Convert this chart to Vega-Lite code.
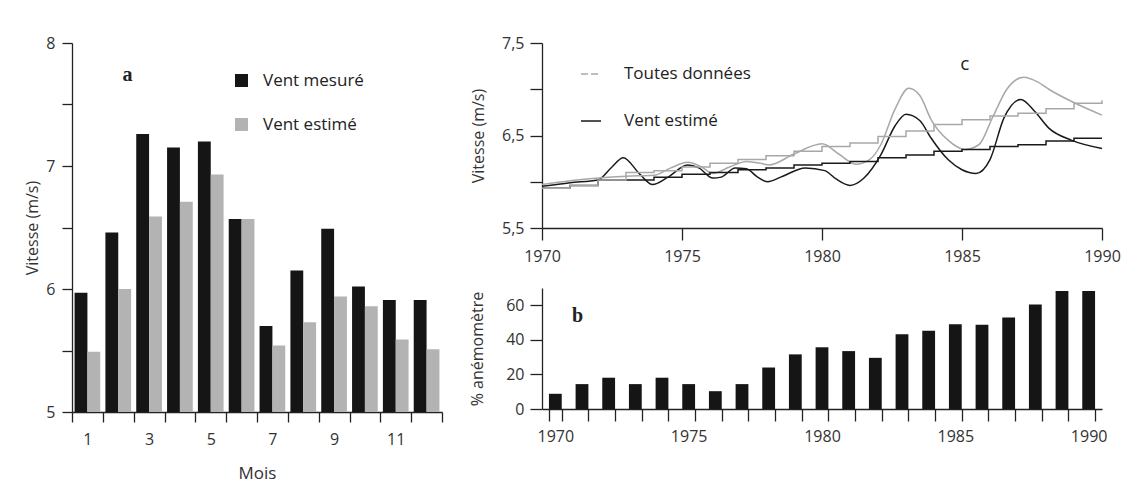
{
  "$schema": "https://vega.github.io/schema/vega-lite/v6.json",
  "background": "white",
  "padding": {"left": 24, "top": 35, "right": 5, "bottom": 5},
  "bounds": "flush",
  "spacing": 100,
  "resolve": {"scale": {"color": "independent"}, "legend": {"color": "independent"}},
  "config": {
    "view": {"stroke": null},
    "font": "Open Sans",
    "axis": {"domainColor": "#222", "tickColor": "#222", "labelColor": "#333", "titleColor": "#333", "labelFont": "Open Sans", "titleFont": "Open Sans", "labelFontSize": 16, "titleFontSize": 16, "titleFontWeight": "normal", "grid": false, "domainWidth": 1.3, "tickWidth": 1.3},
    "legend": {"labelFont": "Open Sans", "labelColor": "#222", "labelFontSize": 17}
  },
  "datasets": {
    "mensuel": [
      {"mois": 1, "serie": "Vent mesuré", "vitesse": 5.97}, {"mois": 1, "serie": "Vent estimé", "vitesse": 5.49},
      {"mois": 2, "serie": "Vent mesuré", "vitesse": 6.46}, {"mois": 2, "serie": "Vent estimé", "vitesse": 6.00},
      {"mois": 3, "serie": "Vent mesuré", "vitesse": 7.26}, {"mois": 3, "serie": "Vent estimé", "vitesse": 6.59},
      {"mois": 4, "serie": "Vent mesuré", "vitesse": 7.15}, {"mois": 4, "serie": "Vent estimé", "vitesse": 6.71},
      {"mois": 5, "serie": "Vent mesuré", "vitesse": 7.20}, {"mois": 5, "serie": "Vent estimé", "vitesse": 6.93},
      {"mois": 6, "serie": "Vent mesuré", "vitesse": 6.57}, {"mois": 6, "serie": "Vent estimé", "vitesse": 6.57},
      {"mois": 7, "serie": "Vent mesuré", "vitesse": 5.70}, {"mois": 7, "serie": "Vent estimé", "vitesse": 5.54},
      {"mois": 8, "serie": "Vent mesuré", "vitesse": 6.15}, {"mois": 8, "serie": "Vent estimé", "vitesse": 5.73},
      {"mois": 9, "serie": "Vent mesuré", "vitesse": 6.49}, {"mois": 9, "serie": "Vent estimé", "vitesse": 5.94},
      {"mois": 10, "serie": "Vent mesuré", "vitesse": 6.02}, {"mois": 10, "serie": "Vent estimé", "vitesse": 5.86},
      {"mois": 11, "serie": "Vent mesuré", "vitesse": 5.91}, {"mois": 11, "serie": "Vent estimé", "vitesse": 5.59},
      {"mois": 12, "serie": "Vent mesuré", "vitesse": 5.91}, {"mois": 12, "serie": "Vent estimé", "vitesse": 5.51}
    ],
    "lisse": [
      {"annee": 1970, "serie": "Vent estimé", "vitesse": 5.95},
      {"annee": 1971, "serie": "Vent estimé", "vitesse": 5.99},
      {"annee": 1972, "serie": "Vent estimé", "vitesse": 6.02},
      {"annee": 1972.5, "serie": "Vent estimé", "vitesse": 6.16},
      {"annee": 1972.9, "serie": "Vent estimé", "vitesse": 6.26},
      {"annee": 1973.5, "serie": "Vent estimé", "vitesse": 6.08},
      {"annee": 1973.95, "serie": "Vent estimé", "vitesse": 5.97},
      {"annee": 1974.5, "serie": "Vent estimé", "vitesse": 6.05},
      {"annee": 1975.2, "serie": "Vent estimé", "vitesse": 6.18},
      {"annee": 1975.6, "serie": "Vent estimé", "vitesse": 6.15},
      {"annee": 1976.1, "serie": "Vent estimé", "vitesse": 6.04},
      {"annee": 1976.4, "serie": "Vent estimé", "vitesse": 6.05},
      {"annee": 1976.9, "serie": "Vent estimé", "vitesse": 6.15},
      {"annee": 1977.3, "serie": "Vent estimé", "vitesse": 6.14},
      {"annee": 1977.7, "serie": "Vent estimé", "vitesse": 6.05},
      {"annee": 1978.05, "serie": "Vent estimé", "vitesse": 6.0},
      {"annee": 1978.6, "serie": "Vent estimé", "vitesse": 6.06},
      {"annee": 1979.4, "serie": "Vent estimé", "vitesse": 6.15},
      {"annee": 1980.1, "serie": "Vent estimé", "vitesse": 6.12},
      {"annee": 1980.5, "serie": "Vent estimé", "vitesse": 6.03},
      {"annee": 1981.0, "serie": "Vent estimé", "vitesse": 5.96},
      {"annee": 1981.5, "serie": "Vent estimé", "vitesse": 6.04},
      {"annee": 1982.1, "serie": "Vent estimé", "vitesse": 6.29},
      {"annee": 1982.6, "serie": "Vent estimé", "vitesse": 6.6},
      {"annee": 1983.0, "serie": "Vent estimé", "vitesse": 6.73},
      {"annee": 1983.5, "serie": "Vent estimé", "vitesse": 6.66},
      {"annee": 1983.9, "serie": "Vent estimé", "vitesse": 6.47},
      {"annee": 1984.5, "serie": "Vent estimé", "vitesse": 6.24},
      {"annee": 1985.0, "serie": "Vent estimé", "vitesse": 6.13},
      {"annee": 1985.5, "serie": "Vent estimé", "vitesse": 6.09},
      {"annee": 1986.0, "serie": "Vent estimé", "vitesse": 6.24},
      {"annee": 1986.5, "serie": "Vent estimé", "vitesse": 6.69},
      {"annee": 1987.1, "serie": "Vent estimé", "vitesse": 6.89},
      {"annee": 1987.6, "serie": "Vent estimé", "vitesse": 6.76},
      {"annee": 1988.1, "serie": "Vent estimé", "vitesse": 6.58},
      {"annee": 1988.9, "serie": "Vent estimé", "vitesse": 6.45},
      {"annee": 1990, "serie": "Vent estimé", "vitesse": 6.36},
      {"annee": 1970, "serie": "Toutes données", "vitesse": 5.97},
      {"annee": 1971, "serie": "Toutes données", "vitesse": 6.01},
      {"annee": 1972, "serie": "Toutes données", "vitesse": 6.04},
      {"annee": 1973, "serie": "Toutes données", "vitesse": 6.06},
      {"annee": 1974, "serie": "Toutes données", "vitesse": 6.07},
      {"annee": 1974.6, "serie": "Toutes données", "vitesse": 6.15},
      {"annee": 1975.2, "serie": "Toutes données", "vitesse": 6.21},
      {"annee": 1975.7, "serie": "Toutes données", "vitesse": 6.16},
      {"annee": 1976.1, "serie": "Toutes données", "vitesse": 6.09},
      {"annee": 1976.7, "serie": "Toutes données", "vitesse": 6.16},
      {"annee": 1977.3, "serie": "Toutes données", "vitesse": 6.22},
      {"annee": 1977.8, "serie": "Toutes données", "vitesse": 6.2},
      {"annee": 1978.1, "serie": "Toutes données", "vitesse": 6.18},
      {"annee": 1979.0, "serie": "Toutes données", "vitesse": 6.3},
      {"annee": 1980.0, "serie": "Toutes données", "vitesse": 6.41},
      {"annee": 1980.6, "serie": "Toutes données", "vitesse": 6.3},
      {"annee": 1981.2, "serie": "Toutes données", "vitesse": 6.19},
      {"annee": 1981.7, "serie": "Toutes données", "vitesse": 6.24},
      {"annee": 1982.1, "serie": "Toutes données", "vitesse": 6.4},
      {"annee": 1982.6, "serie": "Toutes données", "vitesse": 6.78},
      {"annee": 1983.1, "serie": "Toutes données", "vitesse": 7.01},
      {"annee": 1983.5, "serie": "Toutes données", "vitesse": 6.93},
      {"annee": 1983.9, "serie": "Toutes données", "vitesse": 6.67},
      {"annee": 1984.5, "serie": "Toutes données", "vitesse": 6.45},
      {"annee": 1985.1, "serie": "Toutes données", "vitesse": 6.35},
      {"annee": 1985.6, "serie": "Toutes données", "vitesse": 6.4},
      {"annee": 1986.1, "serie": "Toutes données", "vitesse": 6.7},
      {"annee": 1986.6, "serie": "Toutes données", "vitesse": 7.0},
      {"annee": 1987.2, "serie": "Toutes données", "vitesse": 7.13},
      {"annee": 1987.7, "serie": "Toutes données", "vitesse": 7.08},
      {"annee": 1988.1, "serie": "Toutes données", "vitesse": 7.0},
      {"annee": 1988.9, "serie": "Toutes données", "vitesse": 6.87},
      {"annee": 1990, "serie": "Toutes données", "vitesse": 6.72}
    ],
    "cumul": [
      {"annee": 1970, "serie": "Vent estimé", "vitesse": 5.93}, {"annee": 1971, "serie": "Vent estimé", "vitesse": 5.96},
      {"annee": 1972, "serie": "Vent estimé", "vitesse": 6.02}, {"annee": 1973, "serie": "Vent estimé", "vitesse": 6.02},
      {"annee": 1974, "serie": "Vent estimé", "vitesse": 6.05}, {"annee": 1975, "serie": "Vent estimé", "vitesse": 6.08},
      {"annee": 1976, "serie": "Vent estimé", "vitesse": 6.10}, {"annee": 1977, "serie": "Vent estimé", "vitesse": 6.13},
      {"annee": 1978, "serie": "Vent estimé", "vitesse": 6.15}, {"annee": 1979, "serie": "Vent estimé", "vitesse": 6.18},
      {"annee": 1980, "serie": "Vent estimé", "vitesse": 6.20}, {"annee": 1981, "serie": "Vent estimé", "vitesse": 6.22},
      {"annee": 1982, "serie": "Vent estimé", "vitesse": 6.26}, {"annee": 1983, "serie": "Vent estimé", "vitesse": 6.29},
      {"annee": 1984, "serie": "Vent estimé", "vitesse": 6.33}, {"annee": 1985, "serie": "Vent estimé", "vitesse": 6.35},
      {"annee": 1986, "serie": "Vent estimé", "vitesse": 6.38}, {"annee": 1987, "serie": "Vent estimé", "vitesse": 6.40},
      {"annee": 1988, "serie": "Vent estimé", "vitesse": 6.44}, {"annee": 1989, "serie": "Vent estimé", "vitesse": 6.47},
      {"annee": 1990, "serie": "Vent estimé", "vitesse": 6.47},
      {"annee": 1970, "serie": "Toutes données", "vitesse": 5.93}, {"annee": 1971, "serie": "Toutes données", "vitesse": 5.96},
      {"annee": 1972, "serie": "Toutes données", "vitesse": 6.02}, {"annee": 1973, "serie": "Toutes données", "vitesse": 6.10},
      {"annee": 1974, "serie": "Toutes données", "vitesse": 6.12}, {"annee": 1975, "serie": "Toutes données", "vitesse": 6.16},
      {"annee": 1976, "serie": "Toutes données", "vitesse": 6.20}, {"annee": 1977, "serie": "Toutes données", "vitesse": 6.24},
      {"annee": 1978, "serie": "Toutes données", "vitesse": 6.28}, {"annee": 1979, "serie": "Toutes données", "vitesse": 6.33},
      {"annee": 1980, "serie": "Toutes données", "vitesse": 6.38}, {"annee": 1981, "serie": "Toutes données", "vitesse": 6.42},
      {"annee": 1982, "serie": "Toutes données", "vitesse": 6.49}, {"annee": 1983, "serie": "Toutes données", "vitesse": 6.55},
      {"annee": 1984, "serie": "Toutes données", "vitesse": 6.62}, {"annee": 1985, "serie": "Toutes données", "vitesse": 6.67},
      {"annee": 1986, "serie": "Toutes données", "vitesse": 6.71}, {"annee": 1987, "serie": "Toutes données", "vitesse": 6.74},
      {"annee": 1988, "serie": "Toutes données", "vitesse": 6.79}, {"annee": 1989, "serie": "Toutes données", "vitesse": 6.85},
      {"annee": 1990, "serie": "Toutes données", "vitesse": 6.88}
    ],
    "anemo": [
      {"annee": 1970, "pct": 8.8}, {"annee": 1971, "pct": 14.4}, {"annee": 1972, "pct": 18.1}, {"annee": 1973, "pct": 14.4},
      {"annee": 1974, "pct": 18.1}, {"annee": 1975, "pct": 14.4}, {"annee": 1976, "pct": 10.3}, {"annee": 1977, "pct": 14.4},
      {"annee": 1978, "pct": 24.0}, {"annee": 1979, "pct": 31.6}, {"annee": 1980, "pct": 35.7}, {"annee": 1981, "pct": 33.5},
      {"annee": 1982, "pct": 29.6}, {"annee": 1983, "pct": 43.2}, {"annee": 1984, "pct": 45.2}, {"annee": 1985, "pct": 49.1},
      {"annee": 1986, "pct": 48.7}, {"annee": 1987, "pct": 53.0}, {"annee": 1988, "pct": 60.4}, {"annee": 1989, "pct": 68.2},
      {"annee": 1990, "pct": 68.2}
    ]
  },
  "hconcat": [
    {
      "width": 370,
      "height": 369,
      "layer": [
        {
          "data": {"name": "mensuel"},
          "mark": {"type": "bar"},
          "encoding": {
            "x": {"field": "mois", "type": "ordinal", "scale": {"paddingInner": 0, "paddingOuter": 0},
                  "axis": {"title": "Mois", "labelExpr": "datum.value % 2 == 1 ? datum.label : ''", "tickBand": "extent", "labelAngle": 0, "tickSize": 10, "labelPadding": 9, "titlePadding": 18, "titleFontSize": 17}},
            "xOffset": {"field": "serie", "type": "nominal", "sort": ["Vent mesuré", "Vent estimé"], "scale": {"paddingInner": 0, "paddingOuter": 0.2}},
            "y": {"field": "vitesse", "type": "quantitative", "scale": {"domain": [5, 8], "zero": false, "nice": false},
                  "axis": {"title": "Vitesse (m/s)", "values": [5, 5.5, 6, 6.5, 7, 7.5, 8], "labelExpr": "datum.value % 1 == 0 ? format(datum.value, 'd') : ''", "tickSize": 10, "labelPadding": 7, "titlePadding": 5}},
            "y2": {"datum": 5},
            "color": {"field": "serie", "type": "nominal", "scale": {"domain": ["Vent mesuré", "Vent estimé"], "range": ["#151515", "#b3b3b3"]},
                      "legend": {"title": null, "orient": "none", "legendX": 161, "legendY": 29, "symbolType": "square", "symbolSize": 169, "symbolStrokeWidth": 0, "labelOffset": 13, "rowPadding": 26, "padding": 0}}
          }
        },
        {
          "data": {"values": [{}]},
          "mark": {"type": "text", "text": "a", "font": "Liberation Serif", "fontWeight": "bold", "fontSize": 20, "color": "#222"},
          "encoding": {
            "x": {"datum": 2, "type": "ordinal", "bandPosition": 0.8},
            "y": {"datum": 7.74, "type": "quantitative"}
          }
        }
      ]
    },
    {
      "vconcat": [
        {
          "width": 560,
          "height": 185,
          "layer": [
            {
              "data": {"name": "lisse"},
              "mark": {"type": "line", "interpolate": "monotone", "strokeWidth": 1.5},
              "encoding": {
                "x": {"field": "annee", "type": "quantitative", "scale": {"domain": [1970, 1990], "nice": false, "zero": false},
                      "axis": {"title": null, "values": [1970, 1975, 1980, 1985, 1990], "format": "d", "tickSize": 12, "labelPadding": 8, "labelFlush": false}},
                "y": {"field": "vitesse", "type": "quantitative", "scale": {"domain": [5.5, 7.5], "zero": false, "nice": false},
                      "axis": {"title": "Vitesse (m/s)", "values": [5.5, 6, 6.5, 7, 7.5], "labelExpr": "datum.value % 1 != 0 ? replace(format(datum.value, '.1f'), '.', ',') : ''", "tickSize": 12, "labelPadding": 6, "titlePadding": 15}},
                "color": {"field": "serie", "type": "nominal", "scale": {"domain": ["Toutes données", "Vent estimé"], "range": ["#a8a8a8", "#1a1a1a"]},
                          "legend": {"title": null, "orient": "none", "legendX": 38, "legendY": 20, "symbolType": "stroke", "symbolSize": 400, "symbolStrokeWidth": 1.5, "labelOffset": 22, "rowPadding": 28, "padding": 0,
                                     "encode": {"symbols": {"update": {"strokeDash": {"signal": "datum.value == 'Toutes données' ? [7, 3] : [1, 0]"}}}}}}
              }
            },
            {
              "data": {"name": "cumul"},
              "mark": {"type": "line", "interpolate": "step-after", "strokeWidth": 1.5},
              "encoding": {
                "x": {"field": "annee", "type": "quantitative", "scale": {"domain": [1970, 1990], "nice": false, "zero": false}},
                "y": {"field": "vitesse", "type": "quantitative", "scale": {"domain": [5.5, 7.5], "zero": false, "nice": false}},
                "color": {"field": "serie", "type": "nominal", "scale": {"domain": ["Toutes données", "Vent estimé"], "range": ["#a8a8a8", "#1a1a1a"]}}
              }
            },
            {
              "data": {"values": [{}]},
              "mark": {"type": "text", "text": "c", "font": "Open Sans", "fontSize": 19, "color": "#222"},
              "encoding": {
                "x": {"datum": 1985.1, "type": "quantitative"},
                "y": {"datum": 7.27, "type": "quantitative"}
              }
            }
          ]
        },
        {
          "width": 560,
          "height": 121,
          "layer": [
            {
              "data": {"name": "anemo"},
              "mark": {"type": "bar", "color": "#151515"},
              "encoding": {
                "x": {"field": "annee", "type": "ordinal", "scale": {"paddingInner": 0.52, "paddingOuter": 0.26},
                      "axis": {"title": null, "labelExpr": "datum.value % 5 == 0 ? datum.label : ''", "tickBand": "extent", "labelAngle": 0, "tickSize": 12, "labelPadding": 7}},
                "y": {"field": "pct", "type": "quantitative", "scale": {"domain": [0, 70], "nice": false},
                      "axis": {"title": "% anémomètre", "values": [0, 20, 40, 60], "tickSize": 12, "labelPadding": 6, "titlePadding": 20}}
              }
            },
            {
              "data": {"values": [{}]},
              "mark": {"type": "text", "text": "b", "font": "Liberation Serif", "fontWeight": "bold", "fontSize": 20, "color": "#222"},
              "encoding": {
                "x": {"datum": 1971, "type": "ordinal", "bandPosition": 0.15},
                "y": {"datum": 53.6, "type": "quantitative"}
              }
            }
          ]
        }
      ],
      "spacing": 60,
      "bounds": "flush"
    }
  ]
}
